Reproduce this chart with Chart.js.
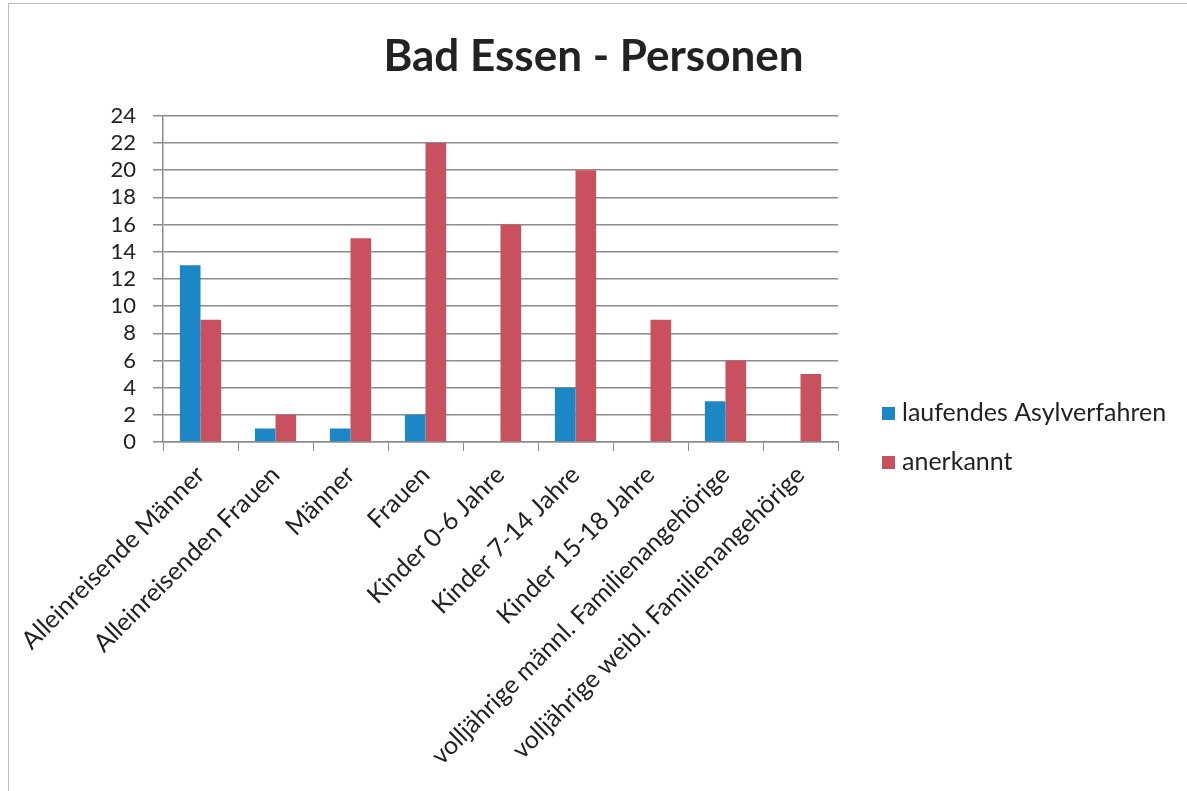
<!DOCTYPE html>
<html>
<head>
<meta charset="utf-8">
<script src="https://cdn.jsdelivr.net/npm/chart.js@4.4.0/dist/chart.umd.min.js"></script>
<style>
    html, body { margin: 0; padding: 0; background: #fff; }
    #wrap { position: relative; width: 1187px; height: 791px; }
    #frame { position: absolute; left: 8px; top: 3px; width: 1190px; height: 800px; border-left: 1px solid #bdbdbd; border-top: 1px solid #bdbdbd; pointer-events: none; }
</style>
</head>
<body>
<div id="wrap">
    <canvas id="chart" width="1187" height="791"></canvas>
    <div id="frame"></div>
</div>
<script>
// Categories and values
const categories = [
    'Alleinreisende Männer',
    'Alleinreisenden Frauen',
    'Männer',
    'Frauen',
    'Kinder 0-6 Jahre',
    'Kinder 7-14 Jahre',
    'Kinder 15-18 Jahre',
    'volljährige männl. Familienangehörige',
    'volljährige weibl. Familienangehörige'
];
const laufend = [13, 1, 1, 2, 0, 4, 0, 3, 0];
const anerkannt = [9, 2, 15, 22, 16, 20, 9, 6, 5];
const seriesNames = ['laufendes Asylverfahren', 'anerkannt'];
const yTicks = [0, 2, 4, 6, 8, 10, 12, 14, 16, 18, 20, 22, 24];

const FONT = 'Lato, "Open Sans", sans-serif';
const gridColor = '#8c8c8c';

// Legend drawn by hand so it sits where the original one does
const sideLegend = {
    id: 'sideLegend',
    afterDraw(chart) {
        const ctx = chart.ctx;
        ctx.save();
        ctx.font = '25px ' + FONT;
        ctx.textBaseline = 'middle';
        chart.data.datasets.forEach((ds, i) => {
            const y = 413 + i * 49;
            ctx.fillStyle = ds.backgroundColor;
            ctx.fillRect(882, y - 6, 13, 13);
            ctx.fillStyle = '#222';
            ctx.fillText(ds.label, 902, y);
        });
        ctx.restore();
    }
};

const ctx = document.getElementById('chart').getContext('2d');
new Chart(ctx, {
    type: 'bar',
    data: {
        labels: categories,
        datasets: [
            { label: seriesNames[0], data: laufend, backgroundColor: '#1d87c6' },
            { label: seriesNames[1], data: anerkannt, backgroundColor: '#c9505e' }
        ]
    },
    options: {
        responsive: false,
        animation: false,
        datasets: { bar: { categoryPercentage: 0.55, barPercentage: 1.0 } },
        layout: { padding: 0 },
        plugins: {
            legend: { display: false },
            tooltip: { enabled: false },
            title: {
                display: true,
                text: 'Bad Essen - Personen',
                color: '#222',
                font: { family: FONT, size: 44, weight: 'bold' },
                padding: { top: 30, bottom: 33 }
            }
        },
        scales: {
            x: {
                afterFit(scale) { scale.height = 349; },
                grid: { display: true, drawOnChartArea: false, drawTicks: true, tickLength: 9, color: gridColor, offset: true },
                border: { display: true, color: gridColor, width: 1.5 },
                ticks: {
                    color: '#222',
                    font: { family: FONT, size: 25 },
                    maxRotation: 45,
                    minRotation: 45,
                    autoSkip: false,
                    padding: 9
                }
            },
            y: {
                min: 0,
                max: 24,
                afterFit(scale) { scale.width = 163; },
                afterBuildTicks(scale) { scale.ticks = yTicks.map(v => ({ value: v })); },
                grid: { color: gridColor, lineWidth: 1.5, tickLength: 10 },
                border: { display: true, color: gridColor, width: 1.5 },
                ticks: {
                    color: '#222',
                    font: { family: FONT, size: 22 },
                    padding: 17,
                    autoSkip: false
                }
            },
            // empty right-hand axis that only reserves room for the legend
            side: {
                position: 'right',
                afterFit(scale) { scale.width = 349; },
                grid: { display: false },
                border: { display: false },
                ticks: { display: false }
            }
        }
    },
    plugins: [sideLegend]
});
</script>
</body>
</html>
